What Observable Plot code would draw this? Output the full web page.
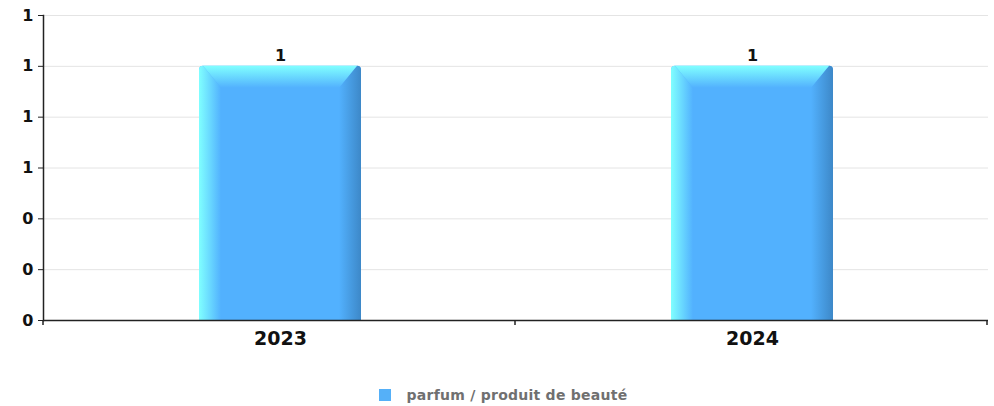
<!DOCTYPE html>
<html>
<head>
<meta charset="utf-8">
<script src="https://cdn.jsdelivr.net/npm/d3@7"></script>
<script src="https://cdn.jsdelivr.net/npm/@observablehq/plot@0.6"></script>
<style>
  html, body { margin: 0; padding: 0; background: #fff; }
  #chart { width: 994px; height: 370px; }
  #legend {
    height: 36px; width: 994px; display: flex; align-items: center; justify-content: center;
    font: bold 14px "DejaVu Sans", sans-serif; letter-spacing: 0.25px; color: #707070;
    box-sizing: border-box; padding-left: 12px; padding-top: 14px;
  }
  #legend .sw { width: 12px; height: 12px; background: #55b0f8; margin-right: 16px; display: inline-block; }
</style>
</head>
<body>
<div id="chart"></div>
<div id="legend"></div>
<script>
const categories = ["2023", "2024"];
const values = [1, 1];
const seriesName = "parfum / produit de beauté";
const yTicks = [0, 0.2, 0.4, 0.6, 0.8, 1.0, 1.2];
const yTickLabels = ["0", "0", "0", "1", "1", "1", "1"];
const valueLabels = ["1", "1"];

const data = categories.map((c, i) => ({cat: c, value: values[i], label: valueLabels[i]}));

function bevelBars(index, scales, vals, dimensions, context) {
  const ns = "http://www.w3.org/2000/svg";
  const doc = context && context.document ? context.document : document;
  const el = (tag, attrs, parent) => {
    const e = doc.createElementNS(ns, tag);
    for (const k in attrs) e.setAttribute(k, attrs[k]);
    if (parent) parent.appendChild(e);
    return e;
  };
  const g = el("g", {});
  const defs = el("defs", {}, g);
  const mk = (id, x1, y1, x2, y2, stops) => {
    const lg = el("linearGradient", {id, x1, y1, x2, y2}, defs);
    stops.forEach(([o, c]) => el("stop", {offset: o, "stop-color": c}, lg));
  };
  mk("bgLeft", 0, 0, 1, 0, [[0, "#80ffff"], [1, "#52b1fe"]]);
  mk("bgTop", 0, 0, 0, 1, [[0, "#80ffff"], [1, "#52b1fe"]]);
  mk("bgRight", 0, 0, 1, 0, [[0, "#52b1fe"], [1, "#3d88c8"]]);
  const xs = scales.x, ys = scales.y;
  const bw = typeof xs.bandwidth === "function" ? xs.bandwidth() : xs.bandwidth;
  const step = typeof xs.step === "function" ? xs.step() : xs.step;
  const bev = 22;
  const yb = ys(0);
  for (const d of data) {
    const x0 = xs(d.cat), x1 = x0 + bw;
    const yt = ys(d.value);
    el("rect", {x: x0, y: yt, width: bw, height: yb - yt, rx: 4, fill: "#52b1fe"}, g);
    el("path", {fill: "url(#bgLeft)", d: `M${x0},${yt + 4}Q${x0},${yt} ${x0 + 4},${yt}L${x0 + bev},${yt + bev}L${x0 + bev},${yb}L${x0},${yb}Z`}, g);
    el("path", {fill: "url(#bgRight)", d: `M${x1 - 4},${yt}Q${x1},${yt} ${x1},${yt + 4}L${x1},${yb}L${x1 - bev},${yb}L${x1 - bev},${yt + bev}Z`}, g);
    el("path", {fill: "url(#bgTop)", d: `M${x0 + 4},${yt}L${x1 - 4},${yt}L${x1 - bev},${yt + bev}L${x0 + bev},${yt + bev}Z`}, g);
  }
  const r0 = Math.min(...xs.range());
  for (let i = 0; i <= categories.length; i++) {
    const xx = r0 + i * step;
    el("line", {x1: xx, x2: xx, y1: yb, y2: yb + 5, stroke: "#222", "stroke-width": 1.5}, g);
  }
  return g;
}

const plot = Plot.plot({
  width: 994,
  height: 370,
  marginLeft: 43,
  marginRight: 6,
  marginTop: 15,
  marginBottom: 50,
  style: {fontFamily: "'DejaVu Sans', sans-serif", background: "#fff"},
  x: {type: "band", domain: categories, paddingInner: 0.657, paddingOuter: 0.3285, align: 0.5, label: null},
  y: {domain: [0, 1.2], label: null},
  marks: [
    Plot.gridY(yTicks, {stroke: "#e4e4e4", strokeOpacity: 1, strokeWidth: 1}),
    Plot.axisY(yTicks, {
      tickFormat: (d, i) => yTickLabels[i], tickSize: 5, tickPadding: 5,
      fontSize: 16, fontWeight: "bold", fill: "#111", stroke: "#222", label: null
    }),
    Plot.axisX({tickSize: 0, tickPadding: 11, fontSize: 19, fontWeight: "bold", fill: "#111", label: null}),
    bevelBars,
    Plot.frame({anchor: "left", stroke: "#222", strokeWidth: 1.5}),
    Plot.ruleY([0], {stroke: "#222", strokeWidth: 1.5}),
    Plot.text(data, {x: "cat", y: "value", text: "label", dy: -10, fontSize: 16, fontWeight: "bold", fill: "#111"})
  ]
});
document.getElementById("chart").appendChild(plot);

const leg = document.getElementById("legend");
leg.innerHTML = `<span class="sw"></span><span>${seriesName}</span>`;
</script>
</body>
</html>
